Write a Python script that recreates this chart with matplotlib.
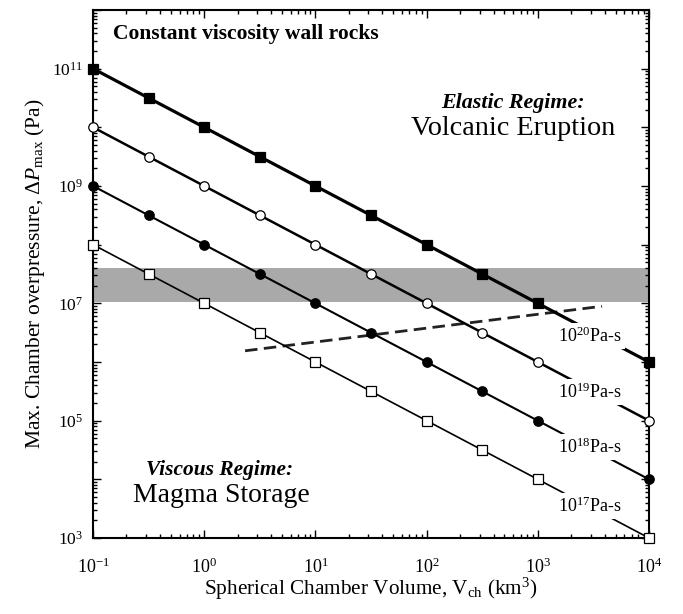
import matplotlib
matplotlib.use("Agg")
import matplotlib.pyplot as plt
import matplotlib.ticker as mticker
import numpy as np

plt.rcParams['font.family'] = ['Liberation Serif', 'DejaVu Serif']
plt.rcParams['mathtext.fontset'] = 'custom'
plt.rcParams['mathtext.rm'] = 'Liberation Serif'
plt.rcParams['mathtext.it'] = 'Liberation Serif:italic'
plt.rcParams['mathtext.bf'] = 'Liberation Serif:bold'

# ---- data ----
volume = [0.1, 0.316, 1, 3.16, 10, 31.6, 100, 316, 1000, 3162, 10000]
dp_visc20 = [1e11, 3.16e10, 1e10, 3.16e9, 1e9, 3.16e8, 1e8, 3.16e7, 1e7, 3.16e6, 1e6]
dp_visc19 = [1e10, 3.16e9, 1e9, 3.16e8, 1e8, 3.16e7, 1e7, 3.16e6, 1e6, 3.16e5, 1e5]
dp_visc18 = [1e9, 3.16e8, 1e8, 3.16e7, 1e7, 3.16e6, 1e6, 3.16e5, 1e5, 3.16e4, 1e4]
dp_visc17 = [1e8, 3.16e7, 1e7, 3.16e6, 1e6, 3.16e5, 1e5, 3.16e4, 1e4, 3.16e3, 1e3]
series_labels = [r'$10^{20}$Pa-s', r'$10^{19}$Pa-s', r'$10^{18}$Pa-s', r'$10^{17}$Pa-s']
label_x = [2950, 2950, 2950, 2950]
label_y = [2.75e6, 3.1e5, 3.5e4, 3.5e3]

band_low, band_high = 1.05e7, 4.0e7
dash_x = [2.33, 3780]
dash_y = [1.55e6, 8.9e6]

x_ticks = [0.1, 1, 10, 100, 1000, 10000]
x_ticklabels = [r'$10^{-1}$', r'$10^{0}$', r'$10^{1}$', r'$10^{2}$', r'$10^{3}$', r'$10^{4}$']
y_ticks = [1e3, 1e4, 1e5, 1e6, 1e7, 1e8, 1e9, 1e10, 1e11, 1e12]
y_ticklabels = [r'$10^{3}$', '', r'$10^{5}$', '', r'$10^{7}$', '', r'$10^{9}$', '', r'$10^{11}$', '']

# ---- figure ----
fig = plt.figure(figsize=(6.83, 6.14), dpi=100)
ax = fig.add_axes([0.1362, 0.1238, 0.814, 0.86])
ax.set_xscale('log')
ax.set_yscale('log')
ax.set_xlim(0.1, 1e4)
ax.set_ylim(1e3, 1e12)

ax.axhspan(band_low, band_high, color='#a9a9a9', lw=0, zorder=1)
ax.plot(dash_x, dash_y, color='#222222', lw=2.0, ls=(0, (4.5, 2.3)), zorder=2)

styles = [
    dict(data=dp_visc20, lw=2.3, marker='s', mfc='black', ms=6.8),
    dict(data=dp_visc19, lw=1.8, marker='o', mfc='white', ms=6.8),
    dict(data=dp_visc18, lw=1.5, marker='o', mfc='black', ms=6.8),
    dict(data=dp_visc17, lw=1.2, marker='s', mfc='white', ms=6.8),
]
for st in styles:
    ax.plot(volume, st['data'], color='black', lw=st['lw'], zorder=3)
    ax.plot(volume, st['data'], ls='none', marker=st['marker'], mfc=st['mfc'],
            mec='black', mew=0.9, ms=st['ms'], zorder=4, clip_on=False)

for lx, ly, lab in zip(label_x, label_y, series_labels):
    ax.text(lx, ly, lab, ha='center', va='center', fontsize=13, zorder=5,
            bbox=dict(boxstyle='square,pad=0.18', fc='white', ec='none'))

ax.text(0.036, 0.945, 'Constant viscosity wall rocks', transform=ax.transAxes,
        fontsize=15.5, fontweight='bold', ha='left', va='baseline')
ax.text(0.755, 0.824, 'Elastic Regime:', transform=ax.transAxes, fontsize=15.8,
        fontweight='bold', fontstyle='italic', ha='center', va='center')
ax.text(0.755, 0.776, 'Volcanic Eruption', transform=ax.transAxes, fontsize=20.3,
        ha='center', va='center')
ax.text(0.228, 0.129, 'Viscous Regime:', transform=ax.transAxes, fontsize=15.4,
        fontweight='bold', fontstyle='italic', ha='center', va='center')
ax.text(0.23, 0.08, 'Magma Storage', transform=ax.transAxes, fontsize=20,
        ha='center', va='center')

ax.set_xticks(x_ticks)
ax.set_xticklabels(x_ticklabels, fontsize=13)
ax.set_yticks(y_ticks)
ax.set_yticklabels(y_ticklabels, fontsize=12.5)
ax.xaxis.set_minor_locator(mticker.LogLocator(base=10, subs=np.arange(2, 10), numticks=50))
ax.yaxis.set_minor_locator(mticker.LogLocator(base=10, subs=np.arange(2, 10), numticks=50))
ax.xaxis.set_minor_formatter(mticker.NullFormatter())
ax.yaxis.set_minor_formatter(mticker.NullFormatter())
ax.tick_params(which='both', direction='in', top=True, right=True, width=1.0)
ax.tick_params(which='major', length=6)
ax.tick_params(which='minor', length=3)
ax.tick_params(axis='x', which='major', pad=14)
ax.tick_params(axis='y', which='major', pad=7)
for sp in ax.spines.values():
    sp.set_linewidth(1.5)

ax.set_xlabel(r'Spherical Chamber Volume, V$_{\rm ch}$ (km$^3$)', fontsize=15.3, labelpad=-1)
ax.set_ylabel(r'Max. Chamber overpressure, $\mathit{\Delta P}_{\rm max}$ (Pa)', fontsize=15.5, labelpad=4)

fig.savefig('out.png', dpi=100)
